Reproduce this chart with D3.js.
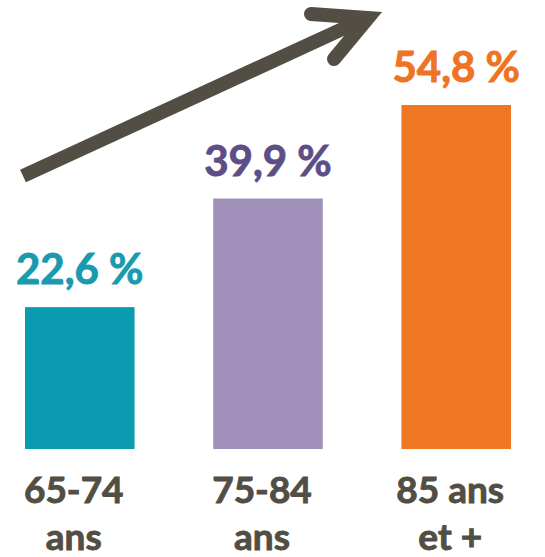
<!DOCTYPE html>
<html>
<head>
<meta charset="utf-8">
<script src="https://cdn.jsdelivr.net/npm/d3@7"></script>
<style>
	html, body { margin: 0; padding: 0; background: #fff; }
	svg { display: block; }
	text { font-family: Lato, 'Open Sans', sans-serif; font-weight: 700; }
</style>
</head>
<body>
<div id="chart"></div>
<script>
// data
const categories = ['65-74 ans', '75-84 ans', '85 ans et +']
const values = [22.6, 39.9, 54.8]
const labelLines = [['65-74', 'ans'], ['75-84', 'ans'], ['85 ans', 'et +']]
const barColors = ['#0a9bb0', '#a190b9', '#ef7622']
const valueColors = ['#1a9aae', '#5e4e86', '#ee7423']

const width = 545
const height = 557
const ink = '#524e44'

const svg = d3.select('#chart')
	.append('svg')
	.attr('width', width)
	.attr('height', height)

const x = d3.scaleBand()
	.domain(categories)
	.range([25, 511])
	.paddingInner(0.418)

const y = d3.scaleLinear()
	.domain([0, 54.8])
	.range([449, 105])

const fmt = v => d3.format('.1f')(v).replace('.', ',') + ' %'

const data = categories.map((c, i) => ({
	cat: c,
	value: values[i],
	lines: labelLines[i],
	color: barColors[i],
	textColor: valueColors[i]
}))

// bars
svg.selectAll('rect.bar')
	.data(data)
	.join('rect')
	.attr('class', 'bar')
	.attr('x', d => x(d.cat))
	.attr('y', d => y(d.value))
	.attr('width', x.bandwidth())
	.attr('height', d => y(0) - y(d.value))
	.attr('fill', d => d.color)

// value labels
svg.selectAll('text.value')
	.data(data)
	.join('text')
	.attr('class', 'value')
	.attr('x', d => x(d.cat) + x.bandwidth() / 2)
	.attr('y', d => y(d.value) - 23)
	.attr('text-anchor', 'middle')
	.attr('font-size', 42)
	.attr('fill', d => d.textColor)
	.attr('stroke', d => d.textColor)
	.attr('stroke-width', 0.9)
	.text(d => fmt(d.value))

// category labels
const cats = svg.selectAll('text.cat')
	.data(data)
	.join('text')
	.attr('class', 'cat')
	.attr('text-anchor', 'middle')
	.attr('font-size', 37)
	.attr('fill', ink)
	.attr('stroke', ink)
	.attr('stroke-width', 0.9)

cats.selectAll('tspan')
	.data(d => d.lines.map((l, i) => ({ l, i, d })))
	.join('tspan')
	.attr('x', t => x(t.d.cat) + x.bandwidth() / 2 - 6)
	.attr('y', t => y(0) + 54 + t.i * 47)
	.text(t => t.l)

// trend arrow
const arrow = svg.append('g')
	.attr('fill', 'none')
	.attr('stroke', ink)
	.attr('stroke-width', 14)

arrow.append('line')
	.attr('x1', 23).attr('y1', 176)
	.attr('x2', 362).attr('y2', 20)

arrow.append('polyline')
	.attr('points', '311,14 368,18 334,59')
	.attr('stroke-linecap', 'round')
	.attr('stroke-linejoin', 'miter')
	.attr('stroke-miterlimit', 10)
</script>
</body>
</html>
